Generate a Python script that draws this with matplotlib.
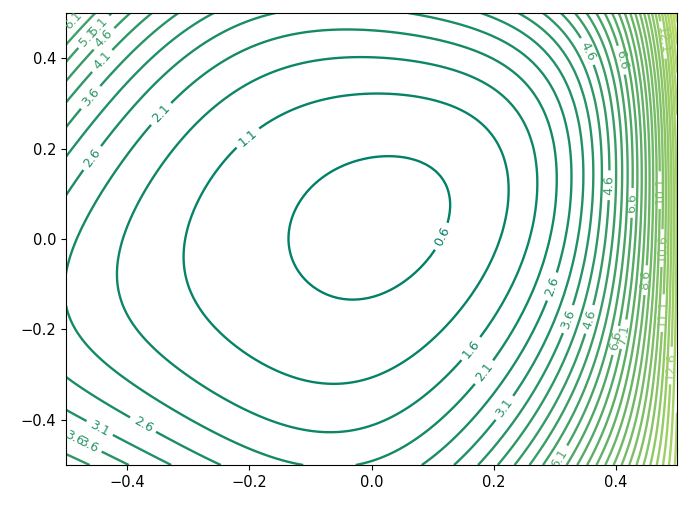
import numpy as np
import matplotlib
matplotlib.use("Agg")
import matplotlib.pyplot as plt

# points: (x, y) on a contour and the level of that contour
sample_x = [
    -0.137, 0.124, 0.014, -0.024, 0.101, -0.096, -0.106, 0.101, 0.079,
    -0.299, 0.014, 0.218, -0.068, -0.202, 0.079, 0.178, 0.223, 0.079,
    -0.407, -0.007, 0.264, -0.096, 0.156, 0.079, 0.292,
    -0.472, -0.014, -0.106, -0.351, -0.362, 0.295,
    -0.464, -0.379, 0.197, 0.084, -0.122, 0.096, -0.297,
    -0.449, 0.297, 0.173, -0.444,
    0.227, -0.461, 0.215,
    0.313, -0.448, -0.485, 0.248,
    0.387, -0.441, 0.276,
    0.358, -0.448,
    0.304, -0.466,
    0.362, -0.485, 0.415,
    0.423, 0.410, 0.395, 0.472, 0.448, 0.477,
    # upper-left and lower-left lines
    -0.215, -0.280, -0.330, -0.363, -0.363, -0.363, -0.363, -0.358,
    # estimated values along the edges and corners
    -0.5, -0.5, 0.35, 0.40, 0.45, 0.5,
    0.145, 0.182, 0.240, 0.377, 0.418, 0.461,
    0.5, 0.5, 0.5, 0.5,
]
sample_y = [
    -0.009, 0.042, 0.170, -0.144, -0.042, 0.131, -0.084, 0.124, -0.075,
    -0.024, 0.334, 0.000, -0.301, 0.223, 0.325, 0.257, 0.086, -0.239,
    0.000, 0.420, 0.000, -0.407, -0.235, -0.334, 0.285,
    0.000, 0.478, -0.496, 0.285, -0.352, 0.000,
    0.186, -0.423, -0.308, -0.500, 0.500, 0.500, -0.500,
    0.301, -0.106, 0.500, -0.416,
    -0.383, -0.449, 0.500,
    -0.173, 0.403, -0.462, 0.500,
    0.119, 0.447, 0.500,
    0.418, 0.473,
    -0.482, 0.458,
    -0.180, 0.480, 0.100,
    0.080, 0.396, -0.223, 0.108, -0.091, -0.164,
    0.500, 0.500, 0.500, 0.339, 0.394, 0.440, 0.478, -0.445,
    0.5, -0.5, 0.5, 0.5, 0.5, 0.5,
    -0.5, -0.5, -0.5, -0.5, -0.5, -0.5,
    0.3, 0.1, -0.25, -0.5,
]
sample_level = (
    [0.6] * 9 + [1.1] * 9 + [1.6] * 7 + [2.1] * 6 + [2.6] * 7
    + [3.1] * 4 + [3.6] * 3 + [4.1] * 4 + [4.6] * 3 + [5.1] * 2
    + [5.6] * 2 + [6.1] * 3 + [6.6, 7.1, 8.6, 9.6, 10.1, 12.6]
    + [3.1, 3.6, 4.1, 2.6, 3.1, 3.6, 4.1, 2.6]
    + [6.4, 4.4, 6.1, 8.0, 11.0, 16.0]
    + [3.1, 3.6, 4.6, 7.6, 9.1, 11.1]
    + [12.5, 11.2, 13.5, 13.5]
)

first_level = 0.6
level_step = 0.5
color_top = 20.0

# where the reference puts its contour labels
label_spots = [
    (0.124, 0.0), (-0.202, 0.223), (0.156, -0.235), (-0.351, 0.285),
    (-0.464, 0.186), (-0.379, -0.423), (0.197, -0.308),
    (-0.449, 0.301), (-0.444, -0.416), (0.297, -0.106),
    (-0.461, -0.449), (0.227, -0.383),
    (-0.448, 0.403), (-0.485, -0.462), (0.313, -0.173),
    (-0.441, 0.447), (0.387, 0.119), (-0.448, 0.473), (0.358, 0.418),
    (-0.466, 0.458), (0.304, -0.482), (-0.485, 0.48), (0.362, -0.18),
    (0.423, 0.08), (0.41, 0.396), (0.395, -0.223), (0.41, -0.21),
    (0.472, 0.108), (0.448, -0.091), (0.475, -0.02), (0.477, -0.164),
    (0.49, -0.28), (0.475, 0.44),
]

sx = np.array(sample_x)
sy = np.array(sample_y)
sz = np.array(sample_level)
# fit relative error, inner rings stronger
w = 1.0 / sz * np.where(sz < 0.7, 3.0, np.where(sz < 1.2, 2.0, 1.0))

# smooth surface through the read points:
# polynomial (degree 4) plus a steep rise toward the right edge
deg = 4
powers = [(i, j) for i in range(deg + 1) for j in range(deg + 1) if i + j <= deg]
rise = 5.0


def basis(x, y):
    u, v = 2 * x, 2 * y
    cols = [u**i * v**j for i, j in powers]
    e = np.exp(rise * (u - 1))
    cols += [e, e * v, e * v**2]
    return np.stack(cols, axis=-1)


A = basis(sx, sy) * w[:, None]
n = A.shape[1]
lam = 1e-5
A_reg = np.vstack([A, np.sqrt(lam) * np.eye(n)])
z_reg = np.concatenate([sz * w, np.zeros(n)])
coef, *_ = np.linalg.lstsq(A_reg, z_reg, rcond=None)

gx = np.linspace(-0.5, 0.5, 120)
gy = np.linspace(-0.5, 0.5, 120)
X, Y = np.meshgrid(gx, gy)
Z = basis(X, Y) @ coef

levels = np.arange(first_level, Z.max(), level_step)

fig = plt.figure(figsize=(6.89, 5.08), dpi=100)
ax = fig.add_axes([66 / 689, 43 / 508, 611 / 689, 452 / 508])

cs = ax.contour(X, Y, Z, levels=levels, cmap="summer",
                vmin=first_level, vmax=color_top, linewidths=1.7)
ax.clabel(cs, inline=True, fontsize=9, fmt="%1.1f", manual=label_spots)

ax.set_xticks([-0.4, -0.2, 0.0, 0.2, 0.4])
ax.set_yticks([-0.4, -0.2, 0.0, 0.2, 0.4])
ax.tick_params(labelsize=10.5)

fig.savefig("out.png", dpi=100)
